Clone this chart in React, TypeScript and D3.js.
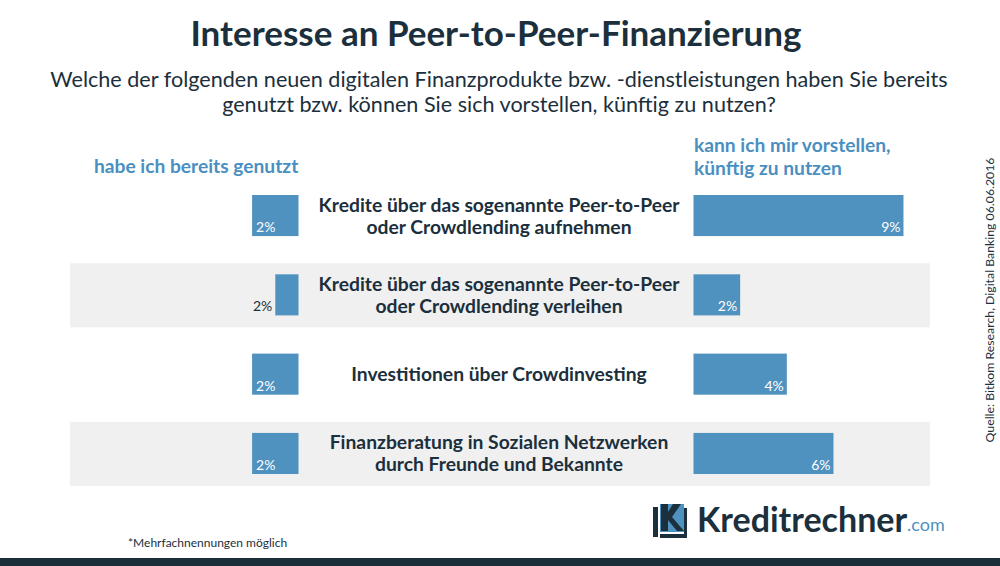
import React from "react";
import * as d3 from "d3";

const categories: string[][] = [
  ["Kredite über das sogenannte Peer-to-Peer", "oder Crowdlending aufnehmen"],
  ["Kredite über das sogenannte Peer-to-Peer", "oder Crowdlending verleihen"],
  ["Investitionen über Crowdinvesting"],
  ["Finanzberatung in Sozialen Netzwerken", "durch Freunde und Bekannte"],
];
const usedValues = [2, 1, 2, 2];
const usedLabels = ["2%", "2%", "2%", "2%"];
const futureValues = [9, 2, 4, 6];
const futureLabels = ["9%", "2%", "4%", "6%"];

const W = 1000;
const H = 566;
const FONT = "Lato, 'Open Sans', sans-serif";
const DARK = "#1b2f3c";
const BLUE = "#4f91bf";
const HEAD = "#4a8fc1";
const BAND = "#f0f0f0";

export default function App() {
  const y = d3
    .scaleBand<number>()
    .domain(d3.range(categories.length))
    .range([195, 474])
    .paddingInner(0.482)
    .paddingOuter(0);
  const xLeft = d3.scaleLinear().domain([0, 10]).range([298.5, 66.5]);
  const xRight = d3.scaleLinear().domain([0, 10]).range([693.5, 926.8]);
  const bw = y.bandwidth();

  return (
    <div style={{ position: "absolute", left: 0, top: 0 }}>
      <svg width={W} height={H} style={{ display: "block", fontFamily: FONT }}>
        <rect x={0} y={0} width={W} height={H} fill="#ffffff" />
        {/* title */}
        <text x={496} y={46} textAnchor="middle" fontSize={35} fontWeight={700} fill={DARK}>
          Interesse an Peer-to-Peer-Finanzierung
        </text>
        <text x={499} y={87} textAnchor="middle" fontSize={21.6} fill={DARK}>
          Welche der folgenden neuen digitalen Finanzprodukte bzw. -dienstleistungen haben Sie bereits
        </text>
        <text x={499} y={112} textAnchor="middle" fontSize={21.6} fill={DARK}>
          genutzt bzw. können Sie sich vorstellen, künftig zu nutzen?
        </text>
        {/* column headers */}
        <text x={94} y={173} fontSize={19.2} fontWeight={700} fill={HEAD}>
          habe ich bereits genutzt
        </text>
        <text x={694} y={152} fontSize={19.2} fontWeight={700} fill={HEAD}>
          kann ich mir vorstellen,
        </text>
        <text x={694} y={175} fontSize={19.2} fontWeight={700} fill={HEAD}>
          künftig zu nutzen
        </text>
        {/* bands */}
        {categories.map((_, i) =>
          i % 2 === 1 ? (
            <rect key={"b" + i} x={70} y={(y(i) as number) - 11} width={860} height={bw + 23} fill={BAND} />
          ) : null
        )}
        {/* left bars */}
        {usedValues.map((v, i) => {
          const y0 = y(i) as number;
          const x0 = xLeft(v);
          const w = xLeft(0) - x0;
          const inside = w > 35;
          return (
            <g key={"l" + i}>
              <rect x={x0} y={y0} width={w} height={bw} fill={BLUE} />
              <text
                x={inside ? x0 + 4 : x0 - 3}
                y={y0 + bw - 4}
                textAnchor={inside ? "start" : "end"}
                fontSize={14}
                fill={inside ? "#ffffff" : DARK}
              >
                {usedLabels[i]}
              </text>
            </g>
          );
        })}
        {/* right bars */}
        {futureValues.map((v, i) => {
          const y0 = y(i) as number;
          const x1 = xRight(v);
          return (
            <g key={"r" + i}>
              <rect x={xRight(0)} y={y0} width={x1 - xRight(0)} height={bw} fill={BLUE} />
              <text x={x1 - 3} y={y0 + bw - 4} textAnchor="end" fontSize={14} fill="#ffffff">
                {futureLabels[i]}
              </text>
            </g>
          );
        })}
        {/* category labels */}
        {categories.map((lines, i) => {
          const cy = (y(i) as number) + bw / 2;
          const lh = 22;
          const start = cy - ((lines.length - 1) * lh) / 2 + 7;
          return (
            <g key={"c" + i}>
              {lines.map((t, j) => (
                <text
                  key={j}
                  x={499}
                  y={start + j * lh}
                  textAnchor="middle"
                  fontSize={19.3}
                  fontWeight={700}
                  fill={DARK}
                >
                  {t}
                </text>
              ))}
            </g>
          );
        })}
        {/* source */}
        <text
          transform="translate(994,300) rotate(-90)"
          textAnchor="middle"
          fontSize={12.3}
          fill={DARK}
        >
          Quelle: Bitkom Research, Digital Banking 06.06.2016
        </text>
        {/* footnote */}
        <text x={128} y={547} fontSize={12} fill={DARK}>
          *Mehrfachnennungen möglich
        </text>
        {/* logo */}
        <g>
          <rect x={653} y={507} width={5} height={30} fill={DARK} />
          <rect x={660} y={504} width={24} height={28} fill={BLUE} />
          <rect x={660} y={534} width={27} height={4} fill={DARK} />
          <rect x={684} y={508} width={3} height={30} fill={DARK} />
          <path d="M661 504 L661 531 L668 531 L668 520 L677 531 L684 531 L672 517 L681 504 L673 504 L668 512 L668 504 Z" fill={DARK} />
          <text x={697} y={532} fontSize={34} fontWeight={700} fill={DARK}>
            Kreditrechner
          </text>
          <text x={907} y={531} fontSize={18} fill={BLUE}>
            .com
          </text>
        </g>
        {/* bottom band */}
        <rect x={0} y={558} width={W} height={8} fill="#1a2e3a" />
      </svg>
    </div>
  );
}
